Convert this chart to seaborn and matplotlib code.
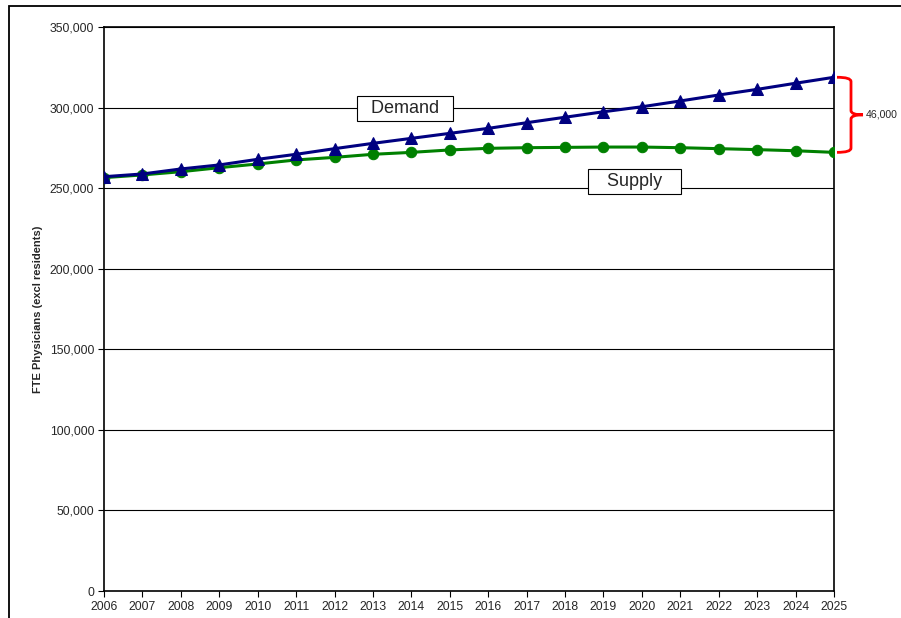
import matplotlib
matplotlib.use("Agg")
import matplotlib.pyplot as plt
import seaborn as sns
import pandas as pd
from matplotlib.path import Path
from matplotlib.patches import PathPatch, Rectangle
from matplotlib.transforms import blended_transform_factory
from matplotlib.ticker import FuncFormatter

years = list(range(2006, 2026))
demand = [257100, 258800, 261900, 264400, 267900, 271000, 274500, 277800, 280900, 284000,
          287100, 290600, 294000, 297400, 300500, 304100, 307800, 311300, 315100, 318800]
supply = [256500, 258200, 260200, 262700, 265000, 267500, 269100, 271000, 272200, 273700,
          274700, 275100, 275300, 275500, 275500, 275100, 274500, 273900, 273200, 272200]
y_ticks = [0, 50000, 100000, 150000, 200000, 250000, 300000, 350000]
y_label = "FTE Physicians (excl residents)"
gap_label = "46,000"

sns.set_style("white")
plt.rcParams['font.family'] = ['Liberation Sans', 'DejaVu Sans']

W, H = 901, 618
fig = plt.figure(figsize=(W / 100, H / 100), dpi=100)
ax = fig.add_axes([104 / W, 1 - 591 / H, (834 - 104) / W, (591 - 27) / H])

df_s = pd.DataFrame({"year": years, "value": supply})
df_d = pd.DataFrame({"year": years, "value": demand})

for y in y_ticks[1:]:
    ax.axhline(y, color="black", lw=0.8, zorder=1)

sns.lineplot(data=df_s, x="year", y="value", ax=ax, color="#008000", lw=2.2,
             marker="o", markersize=7.5, markeredgecolor="#008000", zorder=3)
sns.lineplot(data=df_d, x="year", y="value", ax=ax, color="#000080", lw=2.2,
             marker="^", markersize=8, markeredgecolor="#000080", zorder=4)

ax.set_xlim(2006, 2025)
ax.set_ylim(0, 350000)
ax.set_xticks(years)
ax.set_xticklabels([str(y) for y in years], fontsize=8.8)
ax.set_yticks(y_ticks)
ax.yaxis.set_major_formatter(FuncFormatter(lambda v, p: f"{int(v):,}"))
ax.tick_params(axis="both", which="major", direction="out", length=4, width=0.8,
               color="black", labelsize=8.8, pad=3)
ax.tick_params(axis="x", bottom=True)
ax.tick_params(axis="y", left=True)
for s in ax.spines.values():
    s.set_color("black")
    s.set_linewidth(1.2)
ax.set_xlabel("")
ax.set_ylabel(y_label, fontsize=8, fontweight="bold")
ax.yaxis.set_label_coords(-0.084, 0.5)

box = dict(boxstyle="square,pad=0.22", facecolor="white", edgecolor="black", lw=0.8)
ax.text(2013.83, 299700, "  Demand  ", fontsize=13, ha="center", va="center",
        bbox=box, zorder=5)
ax.text(2019.8, 254400, "   Supply   ", fontsize=13, ha="center", va="center",
        bbox=box, zorder=5)

# brace between demand and supply at 2025
bt = blended_transform_factory(fig.transFigure, ax.transData)
x0, x1, x2 = 837 / W, 851 / W, 863 / W
top, bot = demand[-1], supply[-1]
mid = (top + bot) / 2
c = 2600
codes = [Path.MOVETO, Path.CURVE3, Path.CURVE3, Path.LINETO,
         Path.CURVE3, Path.CURVE3, Path.LINETO,
         Path.CURVE3, Path.CURVE3, Path.LINETO,
         Path.CURVE3, Path.CURVE3, Path.LINETO]
verts = [(x0, top), (x1, top), (x1, top - c),
         (x1, mid + c),
         (x1, mid), (x2, mid),
         (x2, mid),
         (x1, mid), (x1, mid - c),
         (x1, bot + c),
         (x1, bot), (x0, bot),
         (x0, bot)]
brace = PathPatch(Path(verts, codes), transform=bt, fill=False, edgecolor="red",
                  lw=2, clip_on=False, zorder=6)
fig.patches.append(brace)
fig.text(866 / W, mid, gap_label, transform=bt, fontsize=7.6, va="center", ha="left")

# outer frame of the chart area (cropped)
frame = Rectangle((9 / W, -0.1), 1.2, 1 - 6 / H + 0.1, transform=fig.transFigure,
                  fill=False, edgecolor="black", lw=1.3)
fig.patches.append(frame)

fig.savefig("out.png", dpi=100)
